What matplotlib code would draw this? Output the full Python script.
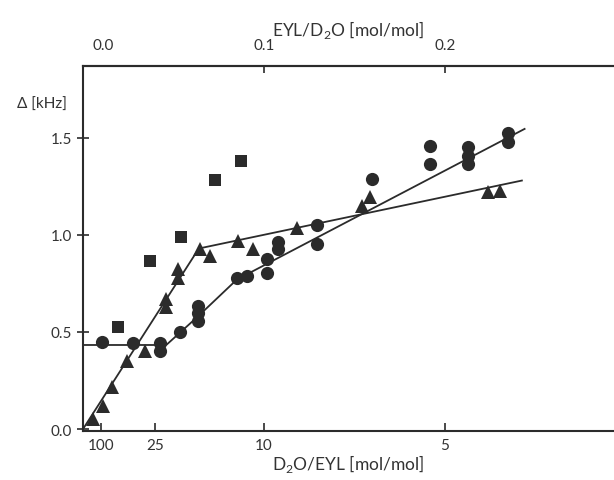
import numpy as np
import matplotlib
matplotlib.use("Agg")
import matplotlib.pyplot as plt
from matplotlib.transforms import ScaledTranslation

# EYL/D2O mol ratio (x) and quadrupole splitting in kHz (y)
circ_x = [0.0105, 0.0276, 0.0425, 0.0425, 0.0536, 0.0635, 0.0635, 0.0635,
          0.0851, 0.0906, 0.1017, 0.1017, 0.1077, 0.1077, 0.1293, 0.1293,
          0.1597, 0.1917, 0.1917, 0.2127, 0.2127, 0.2127, 0.2348, 0.2348]
circ_y = [0.448, 0.443, 0.443, 0.402, 0.50, 0.634, 0.598, 0.557,
          0.778, 0.789, 0.876, 0.804, 0.964, 0.928, 1.052, 0.954,
          1.289, 1.459, 1.366, 1.454, 1.407, 1.366, 1.526, 1.479]

tri_x = [0.0055, 0.011, 0.016, 0.0243, 0.0343, 0.0459, 0.0459, 0.0525, 0.0525,
         0.0646, 0.0702, 0.0856, 0.0939, 0.1182, 0.1541, 0.1586, 0.2238, 0.2304]
tri_y = [0.052, 0.119, 0.216, 0.35, 0.40, 0.629, 0.67, 0.78, 0.825,
         0.928, 0.892, 0.969, 0.928, 1.036, 1.149, 1.196, 1.222, 1.227]

sq_x = [0.0193, 0.037, 0.0541, 0.0729, 0.0873]
sq_y = [0.526, 0.866, 0.99, 1.284, 1.381]

# hand-drawn fit lines
tri_fit_x = [0.0, 0.064, 0.2425]
tri_fit_y = [0.0, 0.93, 1.28]
circ_fit_x = [0.0, 0.046, 0.0635, 0.085, 0.244]
circ_fit_y = [0.433, 0.433, 0.58, 0.77, 1.546]

top_ticks = [0.0, 0.1, 0.2]
top_labels = ["0.0", "0.1", "0.2"]
bot_ticks = [0.01, 0.04, 0.1, 0.2]
bot_labels = ["100", "25", "10", "5"]
y_ticks = [0.0, 0.5, 1.0, 1.5]
y_labels = ["0.0", "0.5", "1.0", "1.5"]

ink = "#2b2b2b"
txt = "#333333"
plt.rcParams["font.family"] = ["Lato", "DejaVu Sans"]
plt.rcParams["mathtext.fontset"] = "custom"
plt.rcParams["mathtext.rm"] = "Lato"

fig = plt.figure(figsize=(6.14, 4.81), dpi=100)
ax = fig.add_axes([83/614, 1-432/481, 1-83/614, (432-67)/481])

ax.plot(tri_fit_x, tri_fit_y, color=ink, lw=1.3, zorder=2)
ax.plot(circ_fit_x, circ_fit_y, color=ink, lw=1.3, zorder=2)
ax.plot(circ_x, circ_y, "o", color=ink, ms=9.5, mew=0, zorder=3)
ax.plot(tri_x, tri_y, "^", color=ink, ms=10.5, mew=0, zorder=3)
ax.plot(sq_x, sq_y, "s", color=ink, ms=9, mew=0, zorder=3)

ax.set_xlim(0, 0.2934)
ax.set_ylim(-0.01, 1.87)
for s in ["left", "bottom", "top"]:
    ax.spines[s].set_color(ink)
    ax.spines[s].set_linewidth(1.5)
ax.spines["right"].set_visible(False)

ax.set_xticks(bot_ticks)
ax.set_xticklabels(bot_labels)
ax.set_yticks(y_ticks)
ax.set_yticklabels(y_labels)
ax.tick_params(axis="x", direction="in", length=6, width=1.2, color=ink,
               labelsize=11, labelcolor=txt, pad=5)
ax.tick_params(axis="y", direction="inout", length=8, width=1.2, color=ink,
               labelsize=11, labelcolor=txt, pad=4)
ax.set_xlabel("D$_2$O/EYL [mol/mol]", fontsize=12.5, color=txt, labelpad=0)

top = ax.twiny()
top.set_xlim(ax.get_xlim())
for s in ["left", "bottom", "right"]:
    top.spines[s].set_visible(False)
top.spines["top"].set_color(ink)
top.spines["top"].set_linewidth(1.5)
top.set_xticks(top_ticks)
top.set_xticklabels(top_labels)
top.tick_params(axis="x", direction="in", length=5, width=1.2, color=ink,
                labelsize=11, labelcolor=txt, pad=10)
first = top.get_xticklabels()[0]
first.set_transform(first.get_transform() + ScaledTranslation(0.2, 0, fig.dpi_scale_trans))
top.set_xlabel("EYL/D$_2$O [mol/mol]", fontsize=12.5, color=txt, labelpad=2)

fig.text(42/614, 1-105/481, "Δ [kHz]", fontsize=11, color=txt,
         ha="center", va="center")

fig.savefig("out.png", dpi=100)
